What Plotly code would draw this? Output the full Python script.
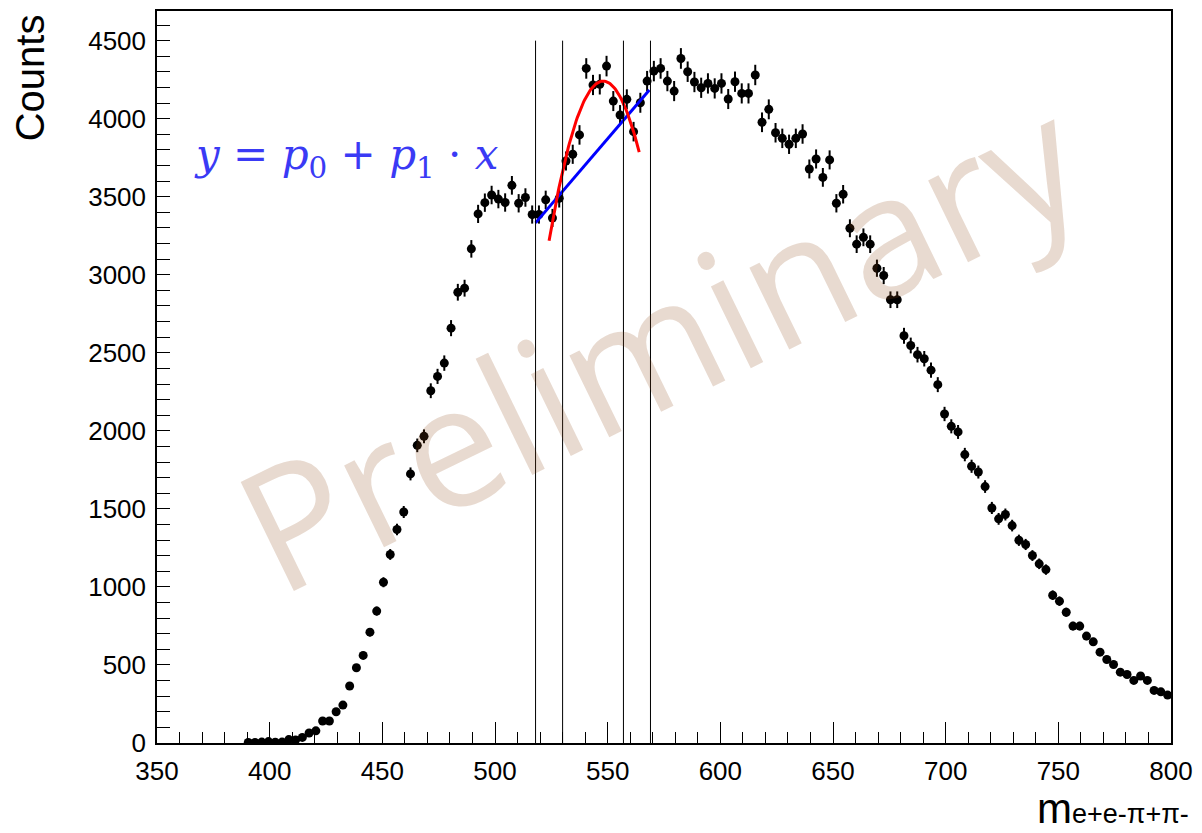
import numpy as np
import plotly.graph_objects as go

# ---- data ----
bin_centers = [
    390.5, 393.5, 396.5, 399.5, 402.5, 405.5, 408.5, 411.5, 414.5, 417.5,
    420.5, 423.5, 426.5, 429.5, 432.5, 435.5, 438.5, 441.5, 444.5, 447.5,
    450.5, 453.5, 456.5, 459.5, 462.5, 465.5, 468.5, 471.5, 474.5, 477.5,
    480.5, 483.5, 486.5, 489.5, 492.5, 495.5, 498.5, 501.5, 504.5, 507.5,
    510.5, 513.5, 516.5, 519.5, 522.5, 525.5, 528.5, 531.5, 534.5, 537.5,
    540.5, 543.5, 546.5, 549.5, 552.5, 555.5, 558.5, 561.5, 564.5, 567.5,
    570.5, 573.5, 576.5, 579.5, 582.5, 585.5, 588.5, 591.5, 594.5, 597.5,
    600.5, 603.5, 606.5, 609.5, 612.5, 615.5, 618.5, 621.5, 624.5, 627.5,
    630.5, 633.5, 636.5, 639.5, 642.5, 645.5, 648.5, 651.5, 654.5, 657.5,
    660.5, 663.5, 666.5, 669.5, 672.5, 675.5, 678.5, 681.5, 684.5, 687.5,
    690.5, 693.5, 696.5, 699.5, 702.5, 705.5, 708.5, 711.5, 714.5, 717.5,
    720.5, 723.5, 726.5, 729.5, 732.5, 735.5, 738.5, 741.5, 744.5, 747.5,
    750.5, 753.5, 756.5, 759.5, 762.5, 765.5, 768.5, 771.5, 774.5, 777.5,
    780.5, 783.5, 786.5, 789.5, 792.5, 795.5, 798.5,
]
counts = [
    3, 4, 6, 9, 5, 6, 22, 20, 36, 64,
    78, 141, 141, 200, 243, 365, 482, 561, 710, 845,
    1030, 1208, 1368, 1480, 1724, 1907, 1965, 2257, 2349, 2434,
    2658, 2888, 2914, 3166, 3390, 3462, 3511, 3485, 3463, 3573,
    3458, 3495, 3386, 3386, 3480, 3364, 3490, 3729, 3772, 3896,
    4322, 4216, 4220, 4337, 4113, 4024, 4124, 3917, 4102, 4241,
    4305, 4322, 4241, 4177, 4386, 4301, 4235, 4198, 4226, 4194,
    4226, 4126, 4237, 4162, 4162, 4280, 3977, 4060, 3910, 3874,
    3836, 3874, 3902, 3678, 3742, 3624, 3736, 3458, 3516, 3298,
    3196, 3240, 3196, 3042, 2995, 2840, 2840, 2609, 2547, 2488,
    2462, 2389, 2296, 2108, 2029, 1993, 1848, 1773, 1736, 1643,
    1506, 1436, 1464, 1393, 1299, 1272, 1201, 1148, 1111, 947,
    909, 838, 749, 749, 685, 648, 582, 535, 503, 454,
    439, 401, 429, 401, 337, 328, 307,
]
x_ticks = [350, 400, 450, 500, 550, 600, 650, 700, 750, 800]
y_ticks = [0, 500, 1000, 1500, 2000, 2500, 3000, 3500, 4000, 4500]

# window boundaries (vertical lines)
window_lines = [518, 530, 557, 569]
window_top = 4500

# linear fit y = p0 + p1*x
lin_p0, lin_p1 = -5401.0, 16.86
lin_range = [518, 568.5]

# quadratic (peak) fit: peak + curv*(x-mean)^2
quad_peak, quad_mean, quad_curv = 4241.0, 548.0, -1.776
quad_range = [524, 564]

errors = np.sqrt(np.array(counts, dtype=float))

fig = go.Figure()

fig.add_trace(go.Scatter(
    x=bin_centers, y=counts, mode="markers",
    marker=dict(color="black", size=9, symbol="circle"),
    error_y=dict(type="data", array=errors, visible=True, color="black",
                 thickness=2, width=0),
    showlegend=False,
))

xl = np.linspace(lin_range[0], lin_range[1], 50)
fig.add_trace(go.Scatter(x=xl, y=lin_p0 + lin_p1 * xl, mode="lines",
                         line=dict(color="#0000ff", width=3), showlegend=False))

xq = np.linspace(quad_range[0], quad_range[1], 100)
fig.add_trace(go.Scatter(x=xq, y=quad_peak + quad_curv * (xq - quad_mean) ** 2,
                         mode="lines", line=dict(color="#ff0000", width=3),
                         showlegend=False))

for xv in window_lines:
    fig.add_shape(type="line", xref="x", yref="y", x0=xv, x1=xv, y0=0, y1=window_top,
                  line=dict(color="black", width=1))

axis_common = dict(
    showgrid=False, zeroline=False, showline=True, linecolor="black", linewidth=1.5,
    mirror=True, ticks="inside", tickcolor="black", tickwidth=1.3,
    tickfont=dict(family="Liberation Sans, Arial, sans-serif", size=26, color="black"),
)

fig.update_xaxes(
    range=[350, 800], tickmode="array", tickvals=x_ticks,
    ticktext=[str(v) for v in x_ticks], ticklen=21, ticklabelstandoff=4,
    minor=dict(tick0=350, dtick=10, ticks="inside", ticklen=11, tickcolor="black",
               tickwidth=1.2, showgrid=False),
    **axis_common,
)
fig.update_yaxes(
    range=[0, 4690], tickmode="array", tickvals=y_ticks,
    ticktext=[str(v) for v in y_ticks], ticklen=13, ticklabelstandoff=4,
    minor=dict(tick0=0, dtick=100, ticks="inside", ticklen=13, tickcolor="black",
               tickwidth=1.2, showgrid=False),
    **axis_common,
)

annotations = [
    dict(text="Counts", xref="paper", yref="paper", x=-0.1255, y=0.909,
         xanchor="center", yanchor="middle", textangle=-90, showarrow=False,
         font=dict(family="Liberation Sans, Arial, sans-serif", size=40, color="black")),
    dict(text="m<span style='font-size:27px'>e+e-π+π-</span>", xref="paper", yref="paper",
         x=1.0196, y=-0.09, xanchor="right", yanchor="middle", showarrow=False,
         font=dict(family="Liberation Sans, Arial, sans-serif", size=42, color="black")),
    dict(text="<i>y</i> = <i>p</i><sub>0</sub> + <i>p</i><sub>1</sub> · <i>x</i>",
         xref="paper", yref="paper", x=0.035, y=0.80, xanchor="left", yanchor="middle",
         showarrow=False,
         font=dict(family="DejaVu Serif, serif", size=42, color="#3a3af5")),
    dict(text="Preliminary", xref="paper", yref="paper", x=0.494, y=0.551,
         xanchor="center", yanchor="middle", textangle=-26, showarrow=False,
         font=dict(family="Open Sans, sans-serif", size=170, color="rgba(139,69,19,0.2)")),
]

fig.update_layout(
    width=1202, height=833,
    margin=dict(l=157, r=25, t=9, b=90),
    paper_bgcolor="white", plot_bgcolor="white",
    showlegend=False, annotations=annotations,
    font=dict(family="Liberation Sans, Arial, sans-serif", color="black"),
)

fig.write_html("out.html", config={"displayModeBar": False},
               post_script="document.body.style.margin='0';")
